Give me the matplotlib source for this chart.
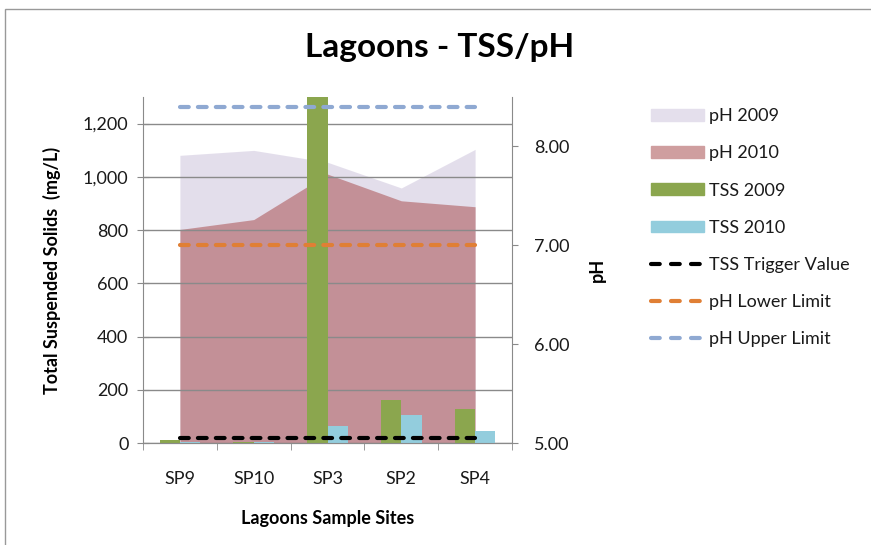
import matplotlib
matplotlib.use("Agg")
import matplotlib.pyplot as plt
from matplotlib.patches import Patch, Rectangle
from matplotlib.lines import Line2D
from matplotlib.ticker import FuncFormatter, FixedLocator
import numpy as np

sites = ["SP9", "SP10", "SP3", "SP2", "SP4"]
ph_2009 = [7.91, 7.96, 7.84, 7.58, 7.97]
ph_2010 = [7.16, 7.26, 7.72, 7.45, 7.39]
tss_2009 = [10, 5, 1450, 161, 127]
tss_2010 = [5, 3, 64, 105, 45]
tss_trigger = 20
ph_lower = 7.0
ph_upper = 8.4

plt.rcParams['font.family'] = ['Lato', 'DejaVu Sans']

fig = plt.figure(figsize=(8.71, 5.45), dpi=100)
ax = fig.add_axes([143/871, 1-443/545, 369/871, 346/545])
ax2 = ax.twinx()
ax.set_zorder(2)
ax.patch.set_visible(False)

x = np.arange(len(sites))
ax.set_xlim(-0.5, 4.5)
ax.set_ylim(0, 1300)
ax2.set_ylim(5, 8.5)

# pH areas, drawn in the main axes but placed with the pH scale
ph_tr = ax2.transData
ax.fill_between(x, 5, ph_2009, color=(201/255, 191/255, 217/255), alpha=0.5,
                lw=0, zorder=1, transform=ph_tr)
ax.fill_between(x, 5, ph_2010, color=(175/255, 93/255, 95/255), alpha=0.6,
                lw=0, zorder=1.1, transform=ph_tr)

# gridlines
for v in range(0, 1400, 200):
    ax.axhline(v, color="#8a8a8a", lw=1, zorder=1.5)

bw = 0.276
ax.bar(x - bw/2, tss_2009, bw, color="#8BA64E", zorder=2)
ax.bar(x + bw/2, tss_2010, bw, color="#93CDDD", zorder=2)

dash = dict(lw=3, dashes=(2.1, 2.2), dash_capstyle="round", zorder=3)
ax.plot(x, [tss_trigger]*len(x), color="black", **dash)
ax.plot(x, [ph_lower]*len(x), color="#E07F35", transform=ph_tr, **dash)
ax.plot(x, [ph_upper]*len(x), color="#8FA9D2", transform=ph_tr, **dash)
ax.set_ylim(0, 1300)
ax.set_xlim(-0.5, 4.5)

# axes styling
grey = "#8a8a8a"
txt = "#1a1a1a"
for a in (ax, ax2):
    for s in a.spines.values():
        s.set_color(grey)
    a.spines["top"].set_visible(False)
ax.spines["right"].set_visible(False)
ax2.spines["left"].set_visible(False)

ax.set_yticks(range(0, 1400, 200))
ax.yaxis.set_major_formatter(FuncFormatter(lambda v, p: f"{int(v):,}"))
ax.tick_params(axis="y", direction="inout", length=9, color=grey,
               labelsize=13, pad=6, labelcolor=txt)
ax.set_xticks(x)
ax.set_xticklabels(sites)
ax.tick_params(axis="x", length=0, labelsize=13, pad=20, labelcolor=txt)
ax.xaxis.set_minor_locator(FixedLocator(np.arange(-0.5, 5, 1)))
ax.tick_params(axis="x", which="minor", direction="out", length=5, color=grey)

ax2.set_yticks([5, 6, 7, 8])
ax2.yaxis.set_major_formatter(FuncFormatter(lambda v, p: f"{v:.2f}"))
ax2.tick_params(axis="y", direction="out", length=4, color=grey,
                labelsize=13, pad=12, labelcolor=txt)

ax.set_ylabel("Total Suspended Solids  (mg/L)", fontsize=13, fontweight="bold",
              labelpad=16)
ax2.set_ylabel("pH", fontsize=13, fontweight="bold", labelpad=14)
ax.set_xlabel("Lagoons Sample Sites", fontsize=13, fontweight="bold", labelpad=17)

fig.text(440/871, 1-47/545, "Lagoons - TSS/pH", ha="center", va="center",
         fontsize=24, fontweight="bold")

# chart border
fig.patches.append(Rectangle((5/871, -0.1), 1, 1.1 - 9/545, transform=fig.transFigure,
                             fill=False, edgecolor="#999999", lw=1))

leg_dash = dict(lw=3, dashes=(2.1, 2.7), dash_capstyle="round")
handles = [
    Patch(color="#E4DFEC", label="pH 2009"),
    Patch(color="#CF9E9F", label="pH 2010"),
    Patch(color="#8BA64E", label="TSS 2009"),
    Patch(color="#93CDDD", label="TSS 2010"),
    Line2D([], [], color="black", label="TSS Trigger Value", **leg_dash),
    Line2D([], [], color="#E07F35", label="pH Lower Limit", **leg_dash),
    Line2D([], [], color="#8FA9D2", label="pH Upper Limit", **leg_dash),
]
fig.legend(handles=handles, loc="upper left", bbox_to_anchor=(635/871, 1-92/545),
           frameon=False, fontsize=13, handlelength=2.9, handleheight=0.6,
           labelspacing=1.17, handletextpad=0.3, labelcolor=txt)

fig.savefig("out.png", dpi=100)
